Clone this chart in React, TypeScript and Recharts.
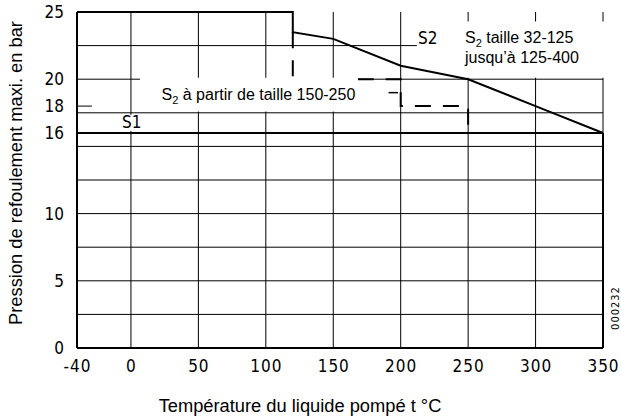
import React from 'react';
import { LineChart, Line, XAxis, YAxis, CartesianGrid, ReferenceLine, ReferenceArea } from 'recharts';

// axes
const TEMP_TICKS = [-40, 0, 50, 100, 150, 200, 250, 300, 350];
const PRESSURE_TICKS = [0, 5, 10, 16, 18, 20, 25];
const GRID_PRESSURE = [2.5, 5, 7.5, 10, 12.5, 15, 17.5, 20, 22.5];

// S1 : 16 bar sur toute la plage
const S1_TEMP = [-40, 350];
const S1_PRESSURE = [16, 16];

// S2 taille 32-125 jusqu'à 125-400 (trait plein)
const S2_TEMP = [-40, 120, 120, 150, 200, 225, 250, 300, 350];
const S2_PRESSURE = [25, 25, 23.5, 23, 21, 20.5, 20, 18, 16];

// S2 à partir de taille 150-250 (tirets)
const S2_LARGE_TEMP = [120, 120, 200, 200, 250, 250];
const S2_LARGE_PRESSURE = [23.5, 20, 20, 18, 18, 16];

const toPoints = (temps: number[], pressures: number[]) =>
  temps.map((t, i) => ({ t, p: pressures[i] }));

const s1Data = toPoints(S1_TEMP, S1_PRESSURE);
const s2Data = toPoints(S2_TEMP, S2_PRESSURE);
const s2LargeData = toPoints(S2_LARGE_TEMP, S2_LARGE_PRESSURE);

const TICK_FONT = '"Liberation Sans Narrow", "DejaVu Sans Condensed", "Arial Narrow", sans-serif';
const TEXT_FONT = '"Liberation Sans", Arial, sans-serif';
const INK = '#000';

function LeftBoxText() {
  return (
    <text x={161.5} y={99.5} fontFamily={TEXT_FONT} fontSize={16} fill={INK}>
      S<tspan fontSize={11} dy={4}>2</tspan>
      <tspan dy={-4}> à partir de taille 150-250</tspan>
    </text>
  );
}

function RightBoxText() {
  return (
    <g>
      <text x={418} y={44} fontFamily={TICK_FONT} fontSize={17} fill={INK}>
        S2
      </text>
      <text x={465} y={43} fontFamily={TEXT_FONT} fontSize={16} fill={INK}>
        S<tspan fontSize={11} dy={4}>2</tspan>
        <tspan dy={-4}> taille 32-125</tspan>
      </text>
      <text x={465} y={63} fontFamily={TEXT_FONT} fontSize={16} fill={INK}>
        jusqu’à 125-400
      </text>
    </g>
  );
}

function S1Text() {
  return (
    <text x={122} y={128} fontFamily={TICK_FONT} fontSize={17} fill={INK}>
      S1
    </text>
  );
}

function XTitle() {
  return (
    <g>
      <text x={300} y={412} textAnchor="middle" fontFamily={TEXT_FONT} fontSize={18.3} fill={INK}>
        Température du liquide pompé t °C
      </text>
      <text
        x={619}
        y={308}
        textAnchor="middle"
        transform="rotate(-90, 619, 308)"
        fontFamily={TICK_FONT}
        fontSize={11}
        letterSpacing={1}
        fill={INK}
      >
        000232
      </text>
    </g>
  );
}

function YTitle() {
  return (
    <text
      x={22}
      y={173}
      textAnchor="middle"
      transform="rotate(-90, 22, 173)"
      fontFamily={TEXT_FONT}
      fontSize={18.3}
      fill={INK}
    >
      Pression de refoulement maxi. en bar
    </text>
  );
}

export default function App() {
  return (
    <div style={{ position: 'absolute', left: 0, top: 0, width: 621, height: 419, background: '#fff' }}>
      <LineChart width={621} height={419} margin={{ top: 12, right: 18, bottom: 0, left: 0 }}>
        <CartesianGrid horizontal={false} stroke={INK} strokeWidth={1} />
        <XAxis
          type="number"
          dataKey="t"
          domain={[-40, 350]}
          ticks={TEMP_TICKS}
          interval={0}
          height={71}
          tickLine={false}
          tickSize={0}
          tickMargin={12}
          axisLine={{ stroke: INK, strokeWidth: 2 }}
          tick={{ fill: INK, fontSize: 17, fontFamily: TICK_FONT, letterSpacing: 1, dx: 0.5 }}
          label={<XTitle />}
        />
        <YAxis
          type="number"
          domain={[0, 25]}
          ticks={PRESSURE_TICKS}
          interval={0}
          width={77}
          tickLine={false}
          tickSize={0}
          tickMargin={13}
          axisLine={{ stroke: INK, strokeWidth: 2 }}
          tick={{ fill: INK, fontSize: 17, fontFamily: TICK_FONT }}
          label={<YTitle />}
        />
        {GRID_PRESSURE.map((v) => (
          <ReferenceLine key={v} y={v} stroke={INK} strokeWidth={1} zIndex={-50} />
        ))}
        <ReferenceLine
          segment={[{ x: -40, y: 18 }, { x: -29, y: 18 }]}
          stroke={INK}
          strokeWidth={1}
          zIndex={-50}
        />
        <ReferenceArea
          x1={212}
          x2={352}
          y1={20.1}
          y2={24.3}
          fill="#fff"
          fillOpacity={1}
          stroke="none"
          ifOverflow="visible"
          zIndex={100}
          label={<RightBoxText />}
        />
        <ReferenceArea
          x1={-5}
          x2={5}
          y1={16.15}
          y2={17.35}
          fill="#fff"
          fillOpacity={1}
          stroke="none"
          zIndex={100}
          label={<S1Text />}
        />
        <Line
          data={s1Data}
          dataKey="p"
          type="linear"
          stroke={INK}
          strokeWidth={2}
          dot={false}
          activeDot={false}
          isAnimationActive={false}
        />
        <Line
          data={s2Data}
          dataKey="p"
          type="linear"
          stroke={INK}
          strokeWidth={2}
          dot={false}
          activeDot={false}
          isAnimationActive={false}
        />
        <Line
          data={s2LargeData}
          dataKey="p"
          type="linear"
          stroke={INK}
          strokeWidth={2}
          strokeDasharray="16 12"
          dot={false}
          activeDot={false}
          isAnimationActive={false}
        />
        <ReferenceLine
          segment={[{ x: 350, y: 0 }, { x: 350, y: 16 }]}
          stroke={INK}
          strokeWidth={2}
          zIndex={420}
        />
        <ReferenceArea
          x1={6.7}
          x2={168.3}
          y1={17.6}
          y2={20.1}
          fill="#fff"
          fillOpacity={1}
          stroke="none"
          zIndex={450}
          label={<LeftBoxText />}
        />
        <ReferenceLine
          segment={[{ x: 191, y: 19 }, { x: 198, y: 19 }]}
          stroke={INK}
          strokeWidth={1.5}
          zIndex={460}
        />
      </LineChart>
    </div>
  );
}
